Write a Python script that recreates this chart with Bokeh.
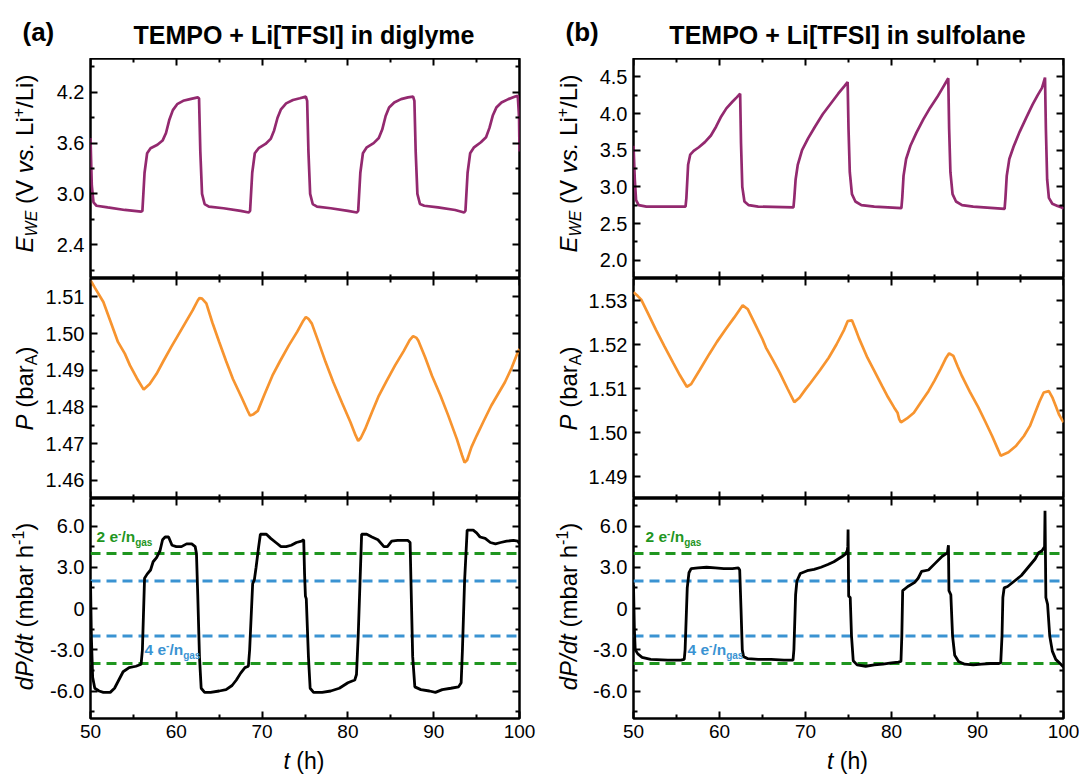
import math
from bokeh.plotting import figure
from bokeh.models import (Range1d, FixedTicker, LinearAxis, Span, Label,
                          PrintfTickFormatter, CustomJSTickFormatter)
from bokeh.layouts import row, column
from bokeh.embed import file_html
from bokeh.resources import INLINE

# ---------------- data ----------------
titles = ["TEMPO + Li[TFSI] in diglyme", "TEMPO + Li[TFSI] in sulfolane"]
panel_tags = ["(a)", "(b)"]

E_dig_pts = [(50.0,3.66),(50.15,3.1),(50.35,2.9),(50.7,2.86),(52.0,2.84),(54.0,2.81),(55.9,2.79),
 (56.05,2.80),(56.3,3.25),(56.6,3.48),(57.0,3.54),(57.8,3.58),(58.4,3.63),(58.8,3.72),(59.2,3.88),
 (59.6,3.99),(60.1,4.06),(60.8,4.10),(61.6,4.12),(62.5,4.14),(62.65,4.13),(62.8,3.5),(63.0,3.0),
 (63.3,2.88),(63.8,2.85),(65.5,2.83),(67.5,2.80),(68.45,2.78),(68.6,2.80),(68.85,3.25),(69.15,3.48),
 (69.6,3.54),(70.4,3.59),(71.0,3.65),(71.4,3.75),(71.8,3.90),(72.2,4.00),(72.8,4.07),(73.6,4.11),
 (74.4,4.13),(75.1,4.15),(75.25,4.1),(75.4,3.5),(75.6,3.0),(75.9,2.88),(76.4,2.85),(78.0,2.83),
 (80.0,2.80),(81.05,2.78),(81.2,2.80),(81.45,3.25),(81.75,3.48),(82.2,3.55),(83.0,3.60),(83.6,3.66),
 (84.0,3.76),(84.4,3.92),(84.8,4.02),(85.4,4.08),(86.2,4.12),(87.0,4.14),(87.6,4.15),(87.75,4.1),
 (87.9,3.5),(88.1,3.0),(88.4,2.88),(88.9,2.86),(90.5,2.84),(92.5,2.81),(93.55,2.78),(93.7,2.80),
 (93.95,3.25),(94.25,3.48),(94.7,3.55),(95.5,3.61),(96.1,3.67),(96.5,3.78),(96.9,3.93),(97.3,4.02),
 (97.9,4.08),(98.7,4.12),(99.5,4.15),(99.8,4.16),(99.95,3.9),(100.0,3.5)]

E_sul_pts = [(50.0,3.56),(50.15,3.1),(50.3,2.82),(50.6,2.75),(51.5,2.73),(56.05,2.73),(56.15,2.85),
 (56.35,3.3),(56.6,3.44),(57.0,3.49),(57.6,3.54),(58.3,3.61),(59.0,3.70),(59.6,3.82),(60.2,3.96),
 (60.8,4.07),(61.5,4.16),(62.0,4.22),(62.4,4.27),(62.5,3.6),(62.65,3.0),(62.9,2.8),(63.4,2.75),
 (64.5,2.73),(68.6,2.72),(68.7,2.85),(68.85,3.1),(69.1,3.3),(69.6,3.5),(70.3,3.66),(71.1,3.82),
 (72.0,3.99),(72.9,4.13),(73.8,4.27),(74.5,4.37),(74.9,4.43),(75.0,3.8),(75.15,3.2),(75.4,2.9),
 (75.8,2.8),(76.5,2.75),(78.0,2.73),(81.15,2.71),(81.25,2.85),(81.4,3.15),(81.7,3.38),(82.2,3.56),
 (82.9,3.74),(83.7,3.92),(84.5,4.08),(85.3,4.22),(85.9,4.34),(86.3,4.42),(86.6,4.48),(86.7,3.8),
 (86.85,3.2),(87.1,2.9),(87.5,2.8),(88.2,2.75),(89.5,2.73),(93.15,2.70),(93.25,2.85),(93.4,3.15),
 (93.7,3.38),(94.2,3.55),(94.9,3.75),(95.7,3.95),(96.4,4.12),(97.0,4.25),(97.5,4.35),(97.85,4.49),
 (97.95,3.8),(98.1,3.1),(98.3,2.85),(98.7,2.77),(99.3,2.74),(99.8,2.72),(100.0,2.70)]

P_dig_pts = [(50.0,1.5145),(50.1,1.5141),(50.5,1.5125),(51.5,1.5086),(52.3,1.5035),(53.2,1.4977),
 (54.0,1.4945),(54.6,1.4913),(55.4,1.4878),(56.2,1.4847),(56.9,1.4862),(57.7,1.4890),(58.5,1.4925),
 (59.4,1.4963),(60.2,1.4995),(61.1,1.5031),(61.9,1.5063),(62.5,1.5090),(62.7,1.5097),(63.0,1.5095),
 (63.5,1.5082),(64.2,1.5030),(65.0,1.4977),(65.8,1.4925),(66.6,1.4876),(67.6,1.4826),(68.3,1.4790),
 (68.6,1.4776),(69.0,1.4780),(69.5,1.4789),(70.3,1.4835),(71.2,1.4885),(72.1,1.4925),(73.1,1.4967),
 (74.1,1.5005),(74.8,1.5035),(75.1,1.5045),(75.4,1.5040),(75.8,1.5027),(76.6,1.4975),(77.4,1.4922),
 (78.3,1.4867),(79.3,1.4812),(80.3,1.4758),(80.9,1.4722),(81.2,1.4707),(81.5,1.4715),(82.0,1.4739),
 (82.8,1.4785),(83.6,1.4830),(84.5,1.4870),(85.5,1.4913),(86.5,1.4952),(87.2,1.4982),(87.6,1.4993),
 (88.0,1.4988),(88.2,1.4981),(89.0,1.4935),(89.8,1.4885),(90.8,1.4830),(91.7,1.4776),(92.7,1.4712),
 (93.3,1.4668),(93.6,1.4648),(93.9,1.4655),(94.4,1.4690),(95.0,1.4721),(95.8,1.4760),(96.7,1.4803),
 (97.5,1.4835),(98.3,1.4867),(99.1,1.4907),(99.8,1.4949),(100.0,1.4958)]

P_sul_pts = [(50.0,1.5319),(50.1,1.5317),(50.5,1.5310),(50.9,1.5302),(51.7,1.5270),(52.6,1.5234),
 (53.6,1.5196),(54.6,1.5159),(55.4,1.5130),(56.2,1.5104),(56.7,1.5110),(57.7,1.5142),(58.8,1.5178),
 (59.7,1.5206),(60.7,1.5234),(61.7,1.5261),(62.3,1.5278),(62.7,1.5289),(63.3,1.5280),(64.1,1.5248),
 (65.0,1.5212),(65.4,1.5193),(66.2,1.5165),(67.0,1.5136),(67.9,1.5100),(68.7,1.5069),(69.3,1.5079),
 (70.0,1.5098),(70.6,1.5113),(71.7,1.5142),(72.7,1.5170),(73.6,1.5200),(74.5,1.5234),(74.9,1.5253),
 (75.4,1.5255),(75.8,1.5236),(76.2,1.5215),(77.2,1.5170),(78.0,1.5140),(78.9,1.5106),(79.6,1.5080),
 (80.3,1.5057),(80.7,1.5045),(80.9,1.5030),(81.1,1.5023),(81.8,1.5032),(82.6,1.5045),(83.4,1.5068),
 (84.3,1.5094),(85.0,1.5118),(85.7,1.5144),(86.3,1.5168),(86.7,1.5180),(87.2,1.5174),(87.7,1.5150),
 (88.2,1.5128),(89.1,1.5093),(90.1,1.5057),(90.9,1.5025),(91.7,1.4992),(92.3,1.4965),(92.7,1.4947),
 (93.6,1.4955),(94.5,1.4970),(95.4,1.4992),(96.1,1.5015),(96.7,1.5045),(97.2,1.5070),(97.7,1.5091),
 (98.3,1.5094),(98.7,1.5080),(99.1,1.5060),(99.5,1.5040),(100.0,1.5023)]

dP_dig_pts = [(50.0,2.0),(50.1,-2.0),(50.25,-5.0),(50.5,-5.8),(51.0,-6.0),(51.5,-6.1),(52.3,-6.1),
 (52.8,-5.8),(53.3,-5.2),(53.8,-4.6),(54.5,-4.3),(55.3,-4.2),(55.9,-4.05),(56.05,-3.0),(56.3,2.2),
 (56.6,2.5),(57.0,2.8),(57.3,3.4),(57.7,3.7),(58.1,4.2),(58.4,5.0),(58.7,5.2),(59.1,5.2),(59.5,4.6),
 (60.0,4.5),(60.6,4.5),(61.2,4.7),(61.8,4.7),(62.2,4.5),(62.35,4.0),(62.5,1.0),(62.7,-3.5),(62.9,-5.8),
 (63.3,-6.1),(64.0,-6.1),(65.0,-6.0),(65.8,-5.9),(66.5,-5.6),(67.0,-5.2),(67.5,-4.7),(68.0,-4.3),
 (68.4,-4.2),(68.55,-3.0),(68.9,1.8),(69.1,2.1),(69.3,3.0),(69.6,4.5),(69.8,5.4),(70.5,5.4),(71.0,5.1),
 (71.6,4.8),(72.2,4.5),(72.8,4.5),(73.4,4.6),(74.0,4.8),(74.6,4.9),(74.85,5.0),(74.95,2.5),(75.05,0.9),
 (75.15,0.7),(75.4,-3.5),(75.6,-5.8),(76.0,-6.1),(77.0,-6.1),(78.0,-6.0),(79.0,-5.8),(80.0,-5.4),
 (80.8,-5.2),(81.0,-4.8),(81.2,-2.0),(81.6,5.4),(82.2,5.4),(82.8,5.2),(83.5,5.0),(84.2,4.5),(84.6,4.5),
 (85.1,4.9),(85.8,4.95),(86.5,4.95),(87.0,4.95),(87.25,4.8),(87.35,2.0),(87.55,-3.5),(87.8,-5.7),
 (88.5,-5.9),(89.5,-6.0),(90.2,-6.1),(91.0,-5.9),(92.0,-5.8),(92.9,-5.7),(93.2,-5.4),(93.35,-3.0),
 (93.6,2.0),(93.9,5.7),(94.6,5.7),(95.0,5.5),(95.4,5.2),(96.0,5.1),(96.6,4.8),(97.2,4.7),(97.8,4.8),
 (98.5,4.9),(99.3,4.95),(99.8,4.9),(100.0,4.7)]

dP_sul_pts = [(50.0,1.7),(50.1,-1.5),(50.2,-3.0),(50.5,-3.3),(51.0,-3.55),(52.0,-3.7),(54.0,-3.75),
 (55.5,-3.75),(55.9,-3.7),(56.0,-3.0),(56.25,1.5),(56.45,2.6),(56.7,2.9),(57.5,2.95),(58.5,3.0),
 (59.5,2.95),(60.5,2.9),(61.5,2.9),(62.2,2.95),(62.35,2.8),(62.5,0.0),(62.65,-3.0),(62.8,-3.5),
 (63.3,-3.65),(64.5,-3.7),(66.0,-3.7),(67.5,-3.75),(68.55,-3.75),(68.65,-3.0),(68.85,1.0),(69.0,2.0),
 (69.4,2.55),(70.2,2.75),(71.0,2.85),(71.8,3.0),(72.6,3.2),(73.3,3.4),(73.8,3.6),(74.3,3.8),(74.65,3.95),
 (74.85,4.2),(74.92,4.5),(74.95,5.75),(75.02,0.9),(75.2,0.8),(75.35,-2.0),(75.55,-3.8),(76.0,-4.1),
 (77.0,-4.2),(78.0,-4.1),(79.0,-4.05),(80.0,-3.95),(80.8,-3.9),(81.1,-3.85),(81.2,-2.0),(81.3,1.3),
 (81.9,1.6),(82.7,1.9),(83.1,2.2),(83.5,2.7),(84.3,2.8),(85.1,3.3),(85.9,3.8),(86.5,4.05),(86.62,4.6),
 (86.68,1.3),(86.9,1.0),(87.1,-2.0),(87.35,-3.4),(87.8,-3.85),(88.5,-4.05),(89.5,-4.1),(90.5,-4.05),
 (91.5,-4.0),(92.5,-4.0),(92.7,-3.95),(92.85,-2.0),(92.95,0.8),(93.1,1.5),(93.5,1.6),(94.3,2.0),
 (95.1,2.4),(95.9,3.0),(96.7,3.6),(97.1,4.05),(97.5,4.2),(97.8,4.5),(97.85,7.1),(97.95,0.8),(98.15,0.3),
 (98.4,-2.0),(98.7,-3.1),(99.1,-3.7),(99.6,-4.0),(100.0,-4.25)]

# reference lines (mbar/h) for 2 e-/n_gas and 4 e-/n_gas
rate_2e = [4.0, -4.0]
rate_4e = [2.0, -2.0]

# axes
x_range_vals = (50, 100)
x_major = [50, 60, 70, 80, 90, 100]
x_minor = [55, 65, 75, 85, 95]

E_dig_range = (2.0, 4.6)
E_dig_major = [2.4, 3.0, 3.6, 4.2]
E_dig_minor = [2.1, 2.7, 3.3, 3.9, 4.5]
P_dig_range = (1.455, 1.515)
P_dig_major = [1.46, 1.47, 1.48, 1.49, 1.50, 1.51]
P_dig_minor = [1.465, 1.475, 1.485, 1.495, 1.505]
E_sul_range = (1.75, 4.75)
E_sul_major = [2.0, 2.5, 3.0, 3.5, 4.0, 4.5]
E_sul_minor = [2.25, 2.75, 3.25, 3.75, 4.25]
P_sul_range = (1.485, 1.535)
P_sul_major = [1.49, 1.50, 1.51, 1.52, 1.53]
P_sul_minor = [1.495, 1.505, 1.515, 1.525]
dP_range = (-8.0, 8.0)
dP_major = [-6.0, -3.0, 0.0, 3.0, 6.0]
dP_minor = [-7.5, -4.5, -1.5, 1.5, 4.5, 7.5]
dP_labels = {-6.0: "-6.0", -3.0: "-3.0", 0.0: "0", 3.0: "3.0", 6.0: "6.0"}

# ---------------- styling / geometry (page has no margin) ----------------
FONT = "Liberation Sans"
C_E = "#93296f"
C_P = "#f7942f"
C_GREEN = "#1f961f"
C_BLUE = "#3a93d2"
FH = 220                 # frame height of every panel
FW = [429, 430]          # frame widths
STRIP = [42, 48]         # width of the y-label strip of each column
BL = [47, 47]            # left border of panel figures (tick labels)
BR = [18, 17]
TITLE_H = 58
BB = 29                  # bottom border (x tick labels)
XLAB_H = 27
LAB_BASE = [32, 39]      # x of the y-label baseline inside the strip
YTICK_FS = "20px"
XTICK_FS = "19px"
LAB = 24
SUB = 16
K = 0.3465               # baseline offset of a "middle"-anchored text, in em

REG = {' ': 278, '(': 333, ')': 333, '+': 584, '-': 333, '.': 278, '/': 278, '[': 278, ']': 278,
       'A': 667, 'E': 667, 'L': 556, 'P': 667, 'V': 667, 'W': 944,
       'a': 556, 'b': 556, 'd': 556, 'e': 556, 'g': 556, 'h': 556, 'i': 222, 'l': 222,
       'm': 833, 'n': 556, 'r': 333, 's': 500, 't': 278, 'v': 500}
BOLD = {' ': 278, '-': 333, '/': 278, 'a': 556, 'e': 556, 'g': 611, 'n': 611, 's': 556}


def tw(s, size, bold):
    tbl = BOLD if bold else REG
    return sum(tbl.get(c, 556) for c in s) * size / 1000.0


def rich(p, ox, oy, sx, sy, x0_px, y0_px, pieces, vertical=False, color="black", center=False):
    """Compose a label of several styled pieces; (x0_px, y0_px) is the baseline start in px."""
    total = sum(tw(s, size, 'bold' in st) for s, size, st, sh in pieces)
    cur = -total / 2 if center else 0.0
    for s, size, st, sh in pieces:
        bold = 'bold' in st
        lead = len(s) - len(s.lstrip(' '))
        core = s.strip(' ')
        cur += tw(' ' * lead, size, bold)
        if core:
            if vertical:
                x = ox + (x0_px - sh - K * size) * sx
                y = oy + (y0_px + cur) * sy
                ang = math.pi / 2
            else:
                x = ox + (x0_px + cur) * sx
                y = oy + (y0_px + sh + K * size) * sy
                ang = 0.0
            p.add_layout(Label(x=x, y=y, text=core, angle=ang, text_font=FONT,
                               text_font_size=f"{size}px", text_font_style=st,
                               text_color=color, text_align="left",
                               text_baseline="middle"))
        cur += tw(core, size, bold)
        cur += tw(' ' * (len(s) - lead - len(core)), size, bold)


def strip(w, h):
    """An empty figure used as a text area (coordinates = pixels, y upward)."""
    s = figure(frame_width=w, frame_height=h, x_range=Range1d(0, w), y_range=Range1d(0, h),
               min_border=0, min_border_left=0, min_border_right=0, min_border_top=0,
               min_border_bottom=0, x_axis_location=None, y_axis_location=None,
               toolbar_location=None, output_backend="svg")
    s.grid.visible = False
    s.outline_line_color = None
    s.background_fill_color = "white"
    s.border_fill_color = "white"
    return s


def style_ticks(ax):
    ax.axis_line_color = None
    ax.major_tick_in = 7
    ax.major_tick_out = 0
    ax.minor_tick_in = 4
    ax.minor_tick_out = 0
    ax.major_tick_line_width = 2
    ax.minor_tick_line_width = 2
    ax.major_tick_line_color = "black"
    ax.minor_tick_line_color = "black"


def blank_axis(ticks, minor, loc):
    ax = LinearAxis(ticker=FixedTicker(ticks=ticks, minor_ticks=minor),
                    formatter=CustomJSTickFormatter(code="return ''"),
                    fixed_location=loc)
    style_ticks(ax)
    ax.major_label_text_font_size = "0px"
    ax.major_label_standoff = 0
    return ax


def make_panel(col, yr, ymaj, ymin, yfmt, overrides, bottom):
    p = figure(frame_width=FW[col], frame_height=FH,
               x_range=Range1d(*x_range_vals), y_range=Range1d(*yr),
               min_border_left=BL[col], min_border_right=BR[col],
               min_border_top=0, min_border_bottom=BB if bottom else 0,
               x_axis_location=None, y_axis_location=None,
               toolbar_location=None, output_backend="svg")
    p.grid.visible = False
    p.outline_line_color = "black"
    p.outline_line_width = 2.5
    p.background_fill_color = "white"
    p.border_fill_color = "white"

    left = LinearAxis(ticker=FixedTicker(ticks=ymaj, minor_ticks=ymin),
                      formatter=PrintfTickFormatter(format=yfmt))
    style_ticks(left)
    if overrides:
        left.major_label_overrides = overrides
    left.major_label_text_font = FONT
    left.major_label_text_font_size = YTICK_FS
    left.major_label_text_color = "black"
    left.major_label_standoff = 6
    p.add_layout(left, "left")
    p.add_layout(blank_axis(ymaj, ymin, x_range_vals[1]), "right")
    p.add_layout(blank_axis(x_major, x_minor, yr[1]), "above")
    if bottom:
        b = LinearAxis(ticker=FixedTicker(ticks=x_major, minor_ticks=x_minor),
                       formatter=PrintfTickFormatter(format="%d"))
        style_ticks(b)
        b.major_label_text_font = FONT
        b.major_label_text_font_size = XTICK_FS
        b.major_label_text_color = "black"
        b.major_label_standoff = 6
        p.add_layout(b, "below")
    else:
        p.add_layout(blank_axis(x_major, x_minor, yr[0]), "below")
    return p


E_label = [("E", LAB, "italic", 0), ("WE", SUB, "italic", -5), (" (V ", LAB, "normal", 0),
           ("vs.", LAB, "italic", 0), (" Li", LAB, "normal", 0), ("+", SUB, "normal", 9),
           ("/Li)", LAB, "normal", 0)]
P_label = [("P", LAB, "italic", 0), (" (bar", LAB, "normal", 0), ("A", SUB, "normal", -5),
           (")", LAB, "normal", 0)]
dP_label = [("dP/dt", LAB, "italic", 0), (" (mbar h", LAB, "normal", 0), ("-1", SUB, "normal", 9),
            (")", LAB, "normal", 0)]
t_label = [("t", 23, "italic", 0), (" (h)", 23, "normal", 0)]
gas2 = [("2 e", 15.5, "bold", 0), ("-", 10, "bold", 6), ("/n", 15.5, "bold", 0), ("gas", 10, "bold", -4)]
gas4 = [("4 e", 15.5, "bold", 0), ("-", 10, "bold", 6), ("/n", 15.5, "bold", 0), ("gas", 10, "bold", -4)]

specs = [
    (E_dig_pts, P_dig_pts, dP_dig_pts, E_dig_range, E_dig_major, E_dig_minor,
     P_dig_range, P_dig_major, P_dig_minor, 6),
    (E_sul_pts, P_sul_pts, dP_sul_pts, E_sul_range, E_sul_major, E_sul_minor,
     P_sul_range, P_sul_major, P_sul_minor, 12),
]
cols = []
for col, (Ep, Pp, dPp, Er, Emaj, Emin, Pr, Pmaj, Pmin, gas2_x) in enumerate(specs):
    fw = FW[col]
    col_w = STRIP[col] + BL[col] + fw + BR[col]
    frame_left = STRIP[col] + BL[col]
    frame_mid = frame_left + fw / 2

    # title strip: title baseline 15 px above the frame, tag baseline 17 px above
    ts = strip(col_w, TITLE_H)
    ts.add_layout(Label(x=frame_mid, y=15 + K * 25, text=titles[col], text_font=FONT,
                        text_font_size="25px", text_font_style="bold", text_align="center",
                        text_baseline="middle", text_color="black"))
    ts.add_layout(Label(x=frame_left - 67, y=17 + K * 26, text=panel_tags[col], text_font=FONT,
                        text_font_size="26px", text_font_style="bold", text_align="left",
                        text_baseline="middle", text_color="black"))

    # panels
    pE = make_panel(col, Er, Emaj, Emin, "%.1f", None, False)
    tE, vE = zip(*Ep)
    pE.line(list(tE), list(vE), line_color=C_E, line_width=2.7)

    pP = make_panel(col, Pr, Pmaj, Pmin, "%.2f", None, False)
    tP, vP = zip(*Pp)
    pP.line(list(tP), list(vP), line_color=C_P, line_width=2.7)

    pD = make_panel(col, dP_range, dP_major, dP_minor, "%.1f", dP_labels, True)
    for v in rate_2e:
        pD.add_layout(Span(location=v, dimension="width", line_color=C_GREEN, line_width=2.8,
                           line_dash="10 6", level="underlay"))
    for v in rate_4e:
        pD.add_layout(Span(location=v, dimension="width", line_color=C_BLUE, line_width=2.8,
                           line_dash="10 6", level="underlay"))
    tD, vD = zip(*dPp)
    pD.line(list(tD), list(vD), line_color="black", line_width=2.8)
    sxD = (x_range_vals[1] - x_range_vals[0]) / fw
    syD = (dP_range[1] - dP_range[0]) / FH
    rich(pD, x_range_vals[0], dP_range[0], sxD, syD, gas2_x, (4.83 - dP_range[0]) / syD,
         gas2, color=C_GREEN)
    rich(pD, x_range_vals[0], dP_range[0], sxD, syD, 54, (-3.35 - dP_range[0]) / syD,
         gas4, color=C_BLUE)

    # y-label strip (pixel coordinates, y upward from the bottom frame edge)
    ys = strip(STRIP[col], 3 * FH)
    rich(ys, 0, 0, 1, 1, LAB_BASE[col], 2 * FH + FH / 2 + 5, E_label, vertical=True, center=True)
    rich(ys, 0, 0, 1, 1, LAB_BASE[col], FH + FH / 2, P_label, vertical=True, center=True)
    rich(ys, 0, 0, 1, 1, LAB_BASE[col], FH / 2 + 2, dP_label, vertical=True, center=True)

    # x-label strip
    xs = strip(col_w, XLAB_H)
    rich(xs, 0, 0, 1, 1, frame_mid, 6, t_label, center=True)

    cols.append(column(ts, row(ys, column(pE, pP, pD)), xs))

layout = row(*cols)
open("out.html", "w").write(file_html(layout, INLINE))
